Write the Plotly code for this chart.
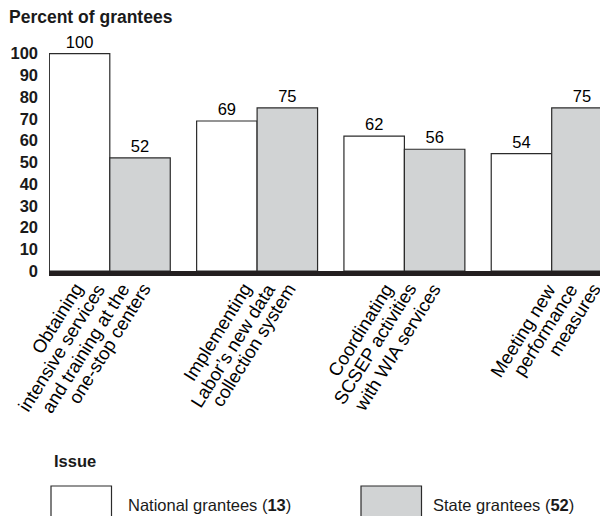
import plotly.graph_objects as go

# ---- data ----
categories = ["Obtaining intensive services and training at the one-stop centers",
              "Implementing Labor’s new data collection system",
              "Coordinating SCSEP activities with WIA services",
              "Meeting new performance measures"]
category_lines = [["Obtaining", "intensive services", "and training at the", "one-stop centers"],
                  ["Implementing", "Labor’s new data", "collection system"],
                  ["Coordinating", "SCSEP activities", "with WIA services"],
                  ["Meeting new", "performance", "measures"]]
national = [100, 69, 62, 54]
state = [52, 75, 56, 75]
y_ticks = [0, 10, 20, 30, 40, 50, 60, 70, 80, 90, 100]
series_names = ["National grantees (<b>13</b>)", "State grantees (<b>52</b>)"]

# ---- style ----
W, H = 608, 516
OFF = 8  # page body margin
ML, MR, MT, MB = 41, 0, 24, 253
FONT = "Liberation Sans, Arial, Helvetica, sans-serif"
GRAY = "#d1d3d4"
EDGE = "#2b2b2b"
label_shifts = [[-20, 2, 26, 48], [1, 25, 45], [-4, 19, 43], [11, 33, 56]]

xs = list(range(len(categories)))

fig = go.Figure()
fig.add_trace(go.Bar(x=xs, y=national, name="National", marker=dict(color="white", line=dict(color=EDGE, width=1.2)),
                     text=national, textposition="outside", cliponaxis=False,
                     textfont=dict(family=FONT, size=16.5, color="black")))
fig.add_trace(go.Bar(x=xs, y=state, name="State", marker=dict(color=GRAY, line=dict(color=EDGE, width=1.2)),
                     text=state, textposition="outside", cliponaxis=False,
                     textfont=dict(family=FONT, size=16.5, color="black")))

pw = W - ML - MR
ph = H - MT - MB
cat_px = 147.3
x0 = -(109.8 - OFF - ML) / cat_px
x1 = x0 + pw / cat_px
y_top = ph / 2.174


def px(xp):
    return (xp - OFF - ML) / pw


def py(yp):
    return (H - MB - (yp - OFF)) / ph


annotations = []
for i, lines in enumerate(category_lines):
    for j, line in enumerate(lines):
        annotations.append(dict(x=xs[i], y=0, xref="x", yref="y", text=line, showarrow=False,
                                textangle=-58, xanchor="right", yanchor="top",
                                xshift=label_shifts[i][j], yshift=-6,
                                font=dict(family=FONT, size=18.5, color="black")))

annotations.append(dict(x=px(7), y=py(17.5), xref="paper", yref="paper", text="<b>Percent of grantees</b>",
                        showarrow=False, xanchor="left", yanchor="middle",
                        font=dict(family=FONT, size=17.5, color="#1a1a1a")))
annotations.append(dict(x=px(52), y=py(461), xref="paper", yref="paper", text="<b>Issue</b>",
                        showarrow=False, xanchor="left", yanchor="middle",
                        font=dict(family=FONT, size=16.5, color="#1a1a1a")))
annotations.append(dict(x=px(126), y=py(505), xref="paper", yref="paper", text=series_names[0],
                        showarrow=False, xanchor="left", yanchor="middle",
                        font=dict(family=FONT, size=16.5, color="#1a1a1a")))
annotations.append(dict(x=px(431), y=py(505), xref="paper", yref="paper", text=series_names[1],
                        showarrow=False, xanchor="left", yanchor="middle",
                        font=dict(family=FONT, size=16.5, color="#1a1a1a")))

shapes = [
    dict(type="rect", xref="paper", yref="paper", x0=px(51), x1=px(111.5), y0=py(486), y1=py(530),
         fillcolor="white", line=dict(color=EDGE, width=1.2)),
    dict(type="rect", xref="paper", yref="paper", x0=px(361), x1=px(421.5), y0=py(486), y1=py(530),
         fillcolor=GRAY, line=dict(color=EDGE, width=1.2)),
]

fig.update_layout(
    width=W, height=H, autosize=False,
    margin=dict(l=ML, r=MR, t=MT, b=MB),
    paper_bgcolor="white", plot_bgcolor="white",
    barmode="group", bargap=0.179, bargroupgap=0,
    showlegend=False,
    font=dict(family=FONT, color="black"),
    xaxis=dict(range=[x0, x1], showticklabels=False, ticks="", showgrid=False, zeroline=False,
               showline=True, linecolor="#231f20", linewidth=5),
    yaxis=dict(range=[0, y_top], tickvals=y_ticks, ticktext=[f"<b>{t}</b>" for t in y_ticks],
               showgrid=False, zeroline=False, showline=False, ticks="", ticklabelstandoff=10,
               tickfont=dict(family=FONT, size=16.5, color="#1a1a1a")),
    annotations=annotations,
    shapes=shapes,
)

fig.write_html("out.html")
